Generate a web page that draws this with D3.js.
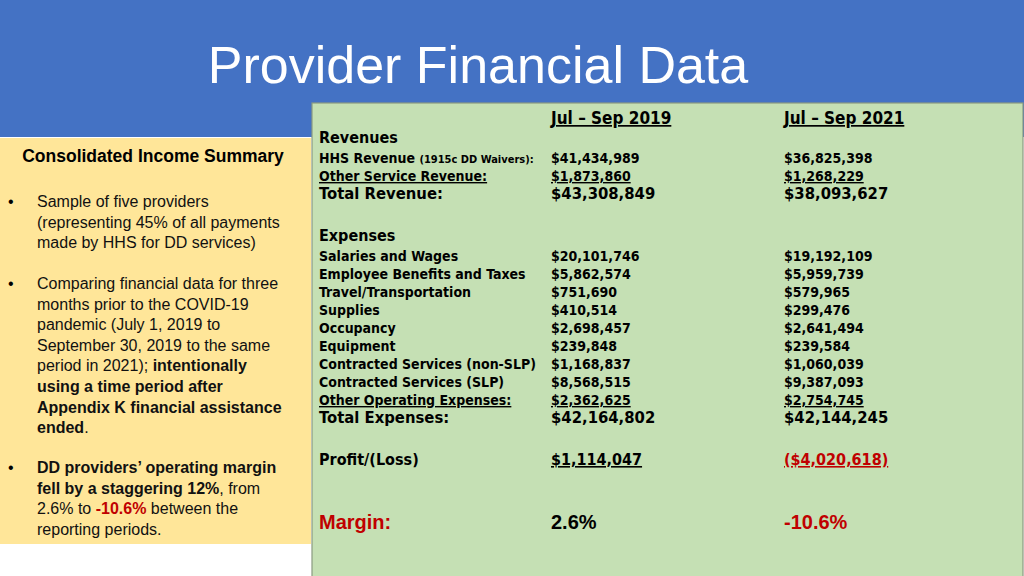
<!DOCTYPE html>
<html><head><meta charset="utf-8">
<script src="https://cdn.jsdelivr.net/npm/d3@7"></script>
<style>body{margin:0;background:#fff}svg{display:block}</style>
</head><body>
<script>
// table data
const periods = ["Jul – Sep 2019", "Jul – Sep 2021"];
const rowLabels = ["Revenues", "HHS Revenue", "Other Service Revenue:", "Total Revenue:", "",
  "Expenses", "Salaries and Wages", "Employee Benefits and Taxes", "Travel/Transportation", "Supplies",
  "Occupancy", "Equipment", "Contracted Services (non-SLP)", "Contracted Services (SLP)",
  "Other Operating Expenses:", "Total Expenses:", "", "Profit/(Loss)", "", "", "Margin:"];
const rowKinds = ["section", "item", "itemU", "total", "gap",
  "section", "item", "item", "item", "item", "item", "item", "item", "item", "itemU", "total", "gap",
  "profit", "gap", "gap", "margin"];
const values2019 = ["", "$41,434,989", "$1,873,860", "$43,308,849", "", "", "$20,101,746", "$5,862,574",
  "$751,690", "$410,514", "$2,698,457", "$239,848", "$1,168,837", "$8,568,515", "$2,362,625",
  "$42,164,802", "", "$1,114,047", "", "", "2.6%"];
const values2021 = ["", "$36,825,398", "$1,268,229", "$38,093,627", "", "", "$19,192,109", "$5,959,739",
  "$579,965", "$299,476", "$2,641,494", "$239,584", "$1,060,039", "$9,387,093", "$2,754,745",
  "$42,144,245", "", "($4,020,618)", "", "", "-10.6%"];
const bullets = [
  [["Sample of five providers"], ["(representing 45% of all payments"], ["made by HHS for DD services)"]],
  [["Comparing financial data for three"], ["months prior to the COVID-19"], ["pandemic (July 1, 2019 to"],
   ["September 30, 2019 to the same"], ["period in 2021); ", ["intentionally", "b"]],
   [["using a time period after", "b"]], [["Appendix K financial assistance", "b"]], [["ended", "b"], "."]],
  [[["DD providers’ operating margin", "b"]], [["fell by a staggering 12%", "b"], ", from"],
   ["2.6% to ", ["-10.6%", "br"], " between the"], ["reporting periods."]]
];

const width = 1024, height = 576;
const svg = d3.select("body").append("svg").attr("width", width).attr("height", height);
const narrow = "'Liberation Sans Narrow', 'Arial Narrow', 'DejaVu Sans Condensed', sans-serif";
const sans = "'Liberation Sans', Arial, sans-serif";
const red = "#c00000";

svg.append("rect").attr("width", width).attr("height", 137).attr("fill", "#4472c4");
svg.append("text").attr("x", 478).attr("y", 83).attr("text-anchor", "middle")
  .attr("font-family", sans).attr("font-size", 52).attr("fill", "#fff").text("Provider Financial Data");

// left yellow panel
svg.append("rect").attr("x", 0).attr("y", 138).attr("width", 311).attr("height", 406).attr("fill", "#ffe699");
svg.append("text").attr("x", 153).attr("y", 162).attr("text-anchor", "middle").attr("font-family", sans)
  .attr("font-weight", "bold").attr("font-size", 17.5).text("Consolidated Income Summary");
const bulletTop = [207, 289, 473], lh = 20.6;
bullets.forEach((lines, bi) => {
  svg.append("text").attr("x", 8).attr("y", bulletTop[bi]).attr("font-family", sans).attr("font-size", 16).text("•");
  lines.forEach((parts, li) => {
    const t = svg.append("text").attr("x", 37).attr("y", bulletTop[bi] + li * lh)
      .attr("font-family", sans).attr("font-size", 16).attr("fill", "#111");
    parts.forEach(p => {
      const s = typeof p === "string" ? [p, ""] : p;
      t.append("tspan").text(s[0]).attr("font-weight", s[1].includes("b") ? "bold" : null)
        .attr("fill", s[1].includes("r") ? red : null);
    });
  });
});

// green table panel
svg.append("rect").attr("x", 312).attr("y", 103).attr("width", 711).attr("height", 480)
  .attr("fill", "#c5e0b4").attr("stroke", "#8a9a80").attr("stroke-width", 1.2);

const kindH = {section: 20, item: 18, itemU: 18, total: 20, gap: 22, profit: 20, margin: 21};
const kindSize = {section: 16, item: 14, itemU: 14, total: 16.5, gap: 14, profit: 16, margin: 20};
let acc = 0;
const rowY = rowKinds.map(k => { const y = acc; acc += kindH[k]; return y; });
const y = d3.scaleLinear().domain([0, rowY[rowY.length - 1]]).range([143, 529]);
const x = d3.scaleOrdinal().domain(["label", ...periods]).range([319, 551, 784]);

const txt = (xx, yy, s, size, opts = {}) => {
  const t = svg.append("text").attr("x", xx).attr("y", yy).attr("font-family", opts.font || narrow)
    .attr("font-weight", "bold").attr("font-size", size).attr("fill", opts.fill || "#000")
    .attr("text-decoration", opts.u ? "underline" : null).text(s);
  return t;
};
periods.forEach(p => txt(x(p), 124, p, 17, {u: true}));

rowLabels.forEach((lab, i) => {
  const k = rowKinds[i], yy = y(rowY[i]), sz = kindSize[k];
  if (lab === "HHS Revenue") {
    const t = txt(x("label"), yy, lab + " ", sz);
    t.append("tspan").attr("font-size", 11).text("(1915c DD Waivers):");
  } else if (lab) {
    txt(x("label"), yy, lab, k === "margin" ? 20 : sz,
      {u: k === "itemU", fill: k === "margin" ? red : "#000", font: k === "margin" ? sans : narrow});
  }
  [values2019, values2021].forEach((vals, j) => {
    if (!vals[i]) return;
    txt(x(periods[j]), yy, vals[i], k === "margin" ? 20 : sz, {
      u: k === "itemU" || k === "profit",
      fill: (j === 1 && (k === "profit" || k === "margin")) ? red : "#000",
      font: k === "margin" ? sans : narrow
    });
  });
});
</script>
</body></html>
